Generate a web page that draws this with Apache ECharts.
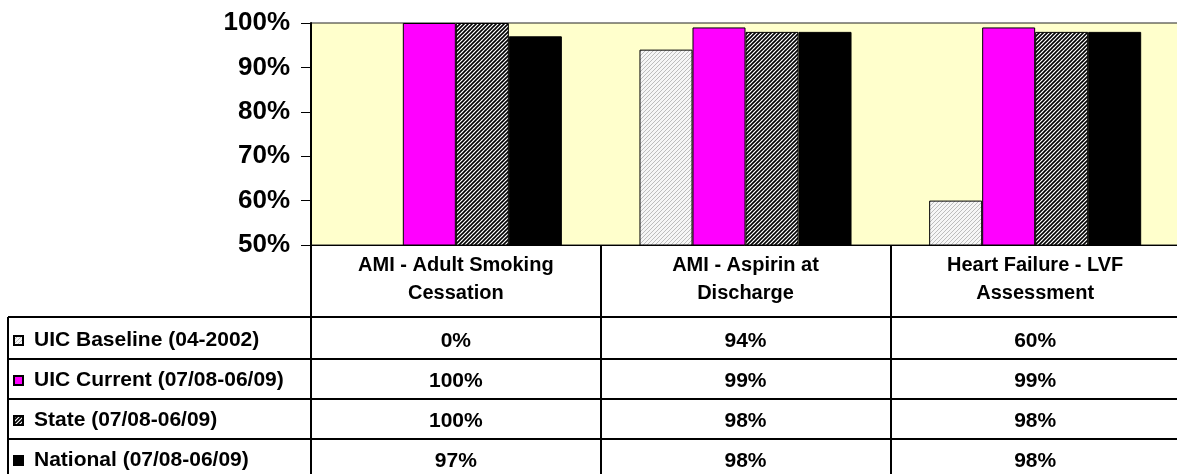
<!DOCTYPE html>
<html>
<head>
<meta charset="utf-8">
<script src="https://cdn.jsdelivr.net/npm/echarts@6/dist/echarts.min.js"></script>
<style>
  html, body { margin: 0; padding: 0; background: #fff; }
  #chart { width: 1177px; height: 474px; }
</style>
</head>
<body>
<div id="chart"></div>
<script>
// measures shown along the x axis
const categories = ['AMI - Adult Smoking\nCessation', 'AMI - Aspirin at\nDischarge', 'Heart Failure - LVF\nAssessment']
const seriesNames = ['UIC Baseline (04-2002)', 'UIC Current (07/08-06/09)', 'State (07/08-06/09)', 'National (07/08-06/09)']
// percent values, one array per series
const baseline = [0, 94, 60]
const current = [100, 99, 99]
const state = [100, 98, 98]
const national = [97, 98, 98]
const yTicks = [50, 60, 70, 80, 90, 100]

const FONT = 'Liberation Sans, Arial, sans-serif'

// small hatch tiles for the patterned bars
function hatch(bg, fg, lw) {
  const c = document.createElement('canvas')
  c.width = 4
  c.height = 4
  const ctx = c.getContext('2d')
  ctx.fillStyle = bg
  ctx.fillRect(0, 0, 4, 4)
  ctx.strokeStyle = fg
  ctx.lineWidth = lw
  ctx.beginPath()
  ctx.moveTo(-1, 5); ctx.lineTo(5, -1)
  ctx.moveTo(-1, 1); ctx.lineTo(1, -1)
  ctx.moveTo(3, 5); ctx.lineTo(5, 3)
  ctx.stroke()
  return c
}

const fills = [
  { image: hatch('#f6f6f6', '#bdbdbd', 1), repeat: 'repeat' },
  '#ff00ff',
  { image: hatch('#ffffff', '#000000', 1.6), repeat: 'repeat' },
  '#000000'
]
const values = [baseline, current, state, national]

// table rows under the axis: label margin from the axis line
const rowMargins = [96, 136, 176, 216]

const chart = echarts.init(document.getElementById('chart'))

const xAxes = [{
  type: 'category',
  data: categories,
  axisLine: { lineStyle: { color: '#000', width: 1 } },
  axisTick: { show: true, length: 240, lineStyle: { color: '#000', width: 2 } },
  axisLabel: {
    color: '#000', fontSize: 20, fontWeight: 'bold', fontFamily: FONT,
    lineHeight: 28, margin: 6, interval: 0
  }
}]
values.forEach((arr, k) => {
  xAxes.push({
    type: 'category',
    data: categories,
    position: 'bottom',
    axisLine: { show: false },
    axisTick: { show: false },
    axisLabel: {
      color: '#000', fontSize: 21, fontWeight: 'bold', fontFamily: FONT,
      margin: rowMargins[k], verticalAlign: 'middle', interval: 0,
      formatter: (v, i) => arr[i] + '%'
    }
  })
})

const hLines = [317, 359, 399, 439].map(y => ({
  type: 'line',
  shape: { x1: 8, y1: y, x2: 1177, y2: y },
  style: { stroke: '#000', lineWidth: 2 }
}))

chart.setOption({
  animation: false,
  backgroundColor: '#fff',
  grid: {
    left: 311, top: 23, width: 869, height: 222,
    outerBoundsMode: 'none',
    show: true, backgroundColor: '#ffffcc', borderColor: '#222', borderWidth: 1
  },
  legend: {
    orient: 'vertical',
    left: 13,
    top: 330,
    padding: 0,
    itemWidth: 9,
    itemHeight: 9,
    itemGap: 19,
    icon: 'rect',
    data: seriesNames,
    textStyle: {
      color: '#000', fontSize: 21, fontWeight: 'bold', fontFamily: FONT,
      lineHeight: 21, padding: [0, 0, 0, 6]
    }
  },
  xAxis: xAxes,
  yAxis: {
    type: 'value',
    min: yTicks[0],
    max: yTicks[yTicks.length - 1],
    interval: 10,
    splitLine: { show: false },
    axisLine: { show: true, lineStyle: { color: '#000', width: 2 } },
    axisTick: { show: true, length: 10, lineStyle: { color: '#000' } },
    axisLabel: {
      color: '#000', fontSize: 26, fontWeight: 'bold', fontFamily: FONT,
      margin: 21, formatter: '{value}%'
    }
  },
  series: seriesNames.map((name, k) => ({
    name: name,
    type: 'bar',
    data: values[k],
    barGap: 0,
    barCategoryGap: '26.8%',
    clip: true,
    itemStyle: { color: fills[k], borderColor: '#000', borderWidth: 1 }
  })),
  graphic: hLines.concat([{
    type: 'line',
    shape: { x1: 8, y1: 317, x2: 8, y2: 474 },
    style: { stroke: '#000', lineWidth: 2 }
  }])
})
</script>
</body>
</html>
